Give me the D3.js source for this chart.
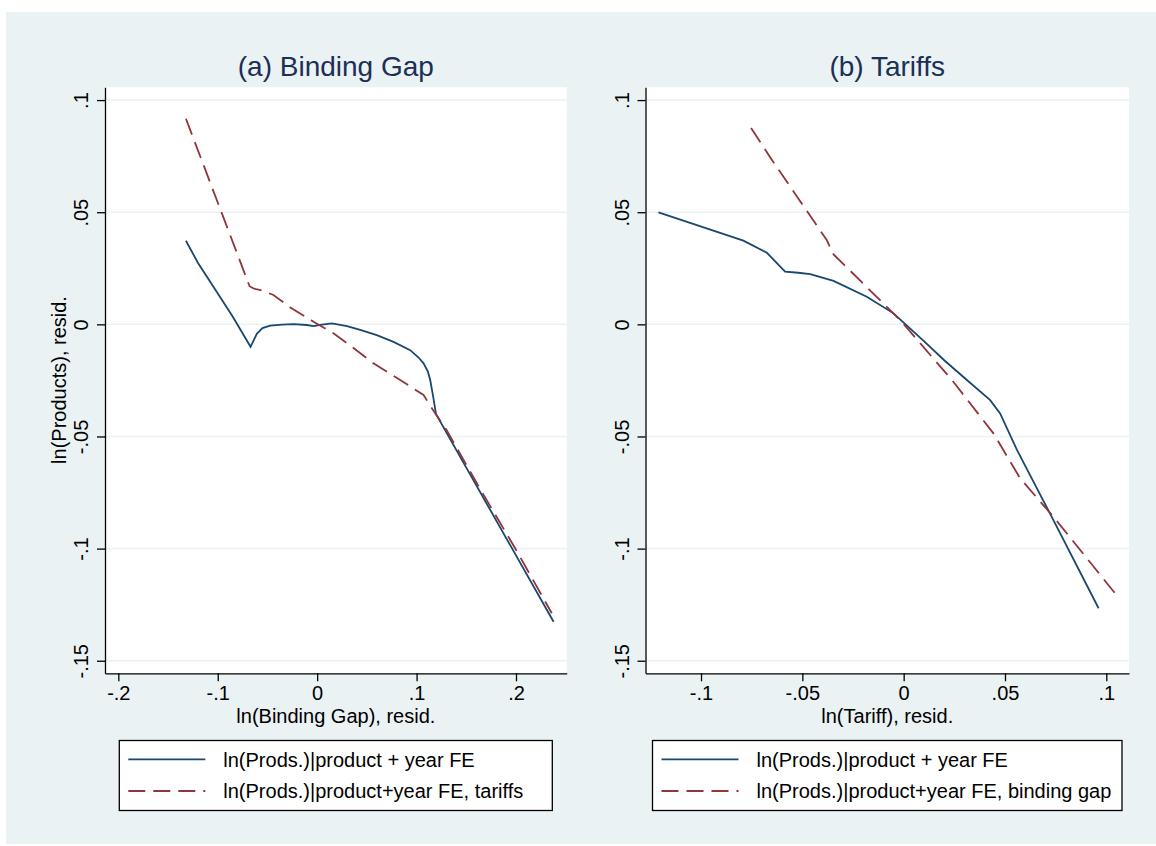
<!DOCTYPE html>
<html>
<head>
<meta charset="utf-8">
<script src="https://cdnjs.cloudflare.com/ajax/libs/d3/7.8.5/d3.min.js"></script>
<style>
  body { margin: 0; background: #fff; }
  text { font-family: "Liberation Sans", Arial, sans-serif; }
</style>
</head>
<body>
<script>
// ---- data ----
var yTicks = [-0.15, -0.1, -0.05, 0, 0.05, 0.1];
var xTicksA = [-0.2, -0.1, 0, 0.1, 0.2];
var xTicksB = [-0.1, -0.05, 0, 0.05, 0.1];

// (a) binding gap: product + year FE
var aBlueX = [-0.132, -0.12, -0.104, -0.085, -0.067, -0.0635, -0.0607, -0.055, -0.0473, -0.035, -0.0238, -0.0104, -0.0037, 0.003, 0.0148, 0.03, 0.0433, 0.06, 0.0768, 0.0936, 0.102, 0.107, 0.1113, 0.1137, 0.117, 0.1195, 0.15, 0.19, 0.2378];
var aBlueY = [0.0373, 0.0275, 0.0165, 0.0035, -0.0100, -0.0068, -0.0042, -0.0017, -0.0006, -0.0001, 0.0001, -0.0003, -0.0008, -0.0002, 0.0004, -0.0008, -0.0025, -0.0048, -0.0078, -0.0115, -0.0148, -0.0174, -0.0210, -0.0248, -0.0330, -0.0400, -0.0639, -0.0952, -0.1326];
// (a) binding gap: product + year FE, tariffs
var aRedX = [-0.132, -0.068, -0.064, -0.055, -0.044, -0.027, -0.0037, 0.0164, 0.035, 0.0566, 0.0835, 0.107, 0.1187, 0.13, 0.164, 0.2, 0.236];
var aRedY = [0.0917, 0.0170, 0.0160, 0.0150, 0.0131, 0.0075, 0.0012, -0.0040, -0.0100, -0.0174, -0.0248, -0.0315, -0.0397, -0.0470, -0.0735, -0.1005, -0.1288];

// (b) tariffs: product + year FE
var bBlueX = [-0.121, -0.0791, -0.0675, -0.0585, -0.052, -0.0461, -0.0346, -0.0182, -0.005, 0, 0.01, 0.02, 0.0312, 0.0427, 0.0476, 0.0559, 0.0739, 0.0962];
var bBlueY = [0.0499, 0.0373, 0.0319, 0.0235, 0.0230, 0.0224, 0.0194, 0.0123, 0.0049, 0.0008, -0.0075, -0.0160, -0.0248, -0.0338, -0.0397, -0.0560, -0.0873, -0.1266];
// (b) tariffs: product + year FE, binding gap
var bRedX = [-0.0753, -0.065, -0.0379, -0.0346, -0.0017, 0.0238, 0.0443, 0.0575, 0.0739, 0.0937, 0.1044];
var bRedY = [0.0875, 0.0733, 0.0375, 0.0312, 0.0019, -0.0248, -0.0486, -0.0687, -0.0858, -0.1080, -0.1200];

var blue = "#1a476f", red = "#90353b", bg = "#eaf2f3", titleColor = "#1c2f57";

var svg = d3.select("body").append("svg")
    .attr("width", 1156)
    .attr("height", 846);

// graph region background
svg.append("rect")
  .attr("x", 6).attr("y", 12)
  .attr("width", 1150).attr("height", 832)
  .attr("fill", bg);

function fmt(d) {
  if (d === 0) return "0";
  return String(d).replace("0.", ".");
}

function panel(opt) {
  var x = d3.scaleLinear().domain(opt.xDomain).range([opt.left, opt.right]);
  var y = d3.scaleLinear().domain([-0.1556, 0.1057]).range([673.3, 87.3]);
  var g = svg.append("g");

  g.append("rect")
    .attr("x", opt.left).attr("y", 87.3)
    .attr("width", opt.right - opt.left).attr("height", 673.3 - 87.3)
    .attr("fill", "#fff");

  // horizontal grid
  g.selectAll(".grid").data(yTicks).enter().append("line")
    .attr("x1", opt.left).attr("x2", opt.right)
    .attr("y1", function(d) { return y(d); })
    .attr("y2", function(d) { return y(d); })
    .attr("stroke", bg).attr("stroke-width", 1.5);

  var line = d3.line()
    .x(function(d) { return x(d[0]); })
    .y(function(d) { return y(d[1]); });

  g.append("path")
    .datum(d3.zip(opt.blueX, opt.blueY))
    .attr("d", line)
    .attr("fill", "none").attr("stroke", blue).attr("stroke-width", 1.8);

  g.append("path")
    .datum(d3.zip(opt.redX, opt.redY))
    .attr("d", line)
    .attr("fill", "none").attr("stroke", red).attr("stroke-width", 1.8)
    .attr("stroke-dasharray", "17,8");

  // axes
  var ax = g.append("g")
    .attr("transform", "translate(0,673.3)")
    .call(d3.axisBottom(x).tickValues(opt.xTicks).tickFormat(fmt).tickSize(8).tickSizeOuter(0));
  ax.selectAll("text").attr("y", 27).attr("dy", 0)
    .attr("font-size", 20).attr("fill", "#000");

  var ay = g.append("g")
    .attr("transform", "translate(" + opt.left + ",0)")
    .call(d3.axisLeft(y).tickValues(yTicks).tickFormat(fmt).tickSize(8).tickSizeOuter(0));
  ay.selectAll("text")
    .attr("transform", "rotate(-90)")
    .attr("x", 0).attr("y", -17).attr("dy", 0)
    .attr("text-anchor", "middle")
    .attr("font-size", 20).attr("fill", "#000");

  [ax, ay].forEach(function(a) {
    a.select(".domain").attr("stroke", "#000").attr("stroke-width", 1.3);
    a.selectAll(".tick line").attr("stroke", "#000").attr("stroke-width", 1.3);
  });

  var cx = (opt.left + opt.right) / 2;

  // title
  g.append("text")
    .attr("x", cx).attr("y", 76)
    .attr("text-anchor", "middle")
    .attr("font-size", 28)
    .attr("fill", titleColor)
    .text(opt.title);

  // x axis title
  g.append("text")
    .attr("x", cx).attr("y", 723)
    .attr("text-anchor", "middle")
    .attr("font-size", 20)
    .text(opt.xTitle);

  if (opt.yTitle) {
    g.append("text")
      .attr("transform", "translate(66,380) rotate(-90)")
      .attr("text-anchor", "middle")
      .attr("font-size", 20)
      .text(opt.yTitle);
  }

  // legend
  var lg = g.append("g").attr("transform", "translate(" + opt.legX + ",740.5)");
  lg.append("rect")
    .attr("width", opt.legW).attr("height", 70)
    .attr("fill", "#fff").attr("stroke", "#000").attr("stroke-width", 1.3);
  var items = [
    { label: opt.labels[0], color: blue, dash: null },
    { label: opt.labels[1], color: red, dash: "17,8" }
  ];
  items.forEach(function(it, i) {
    var yy = 18.8 + i * 31.7;
    lg.append("line")
      .attr("x1", 9).attr("x2", 86)
      .attr("y1", yy).attr("y2", yy)
      .attr("stroke", it.color).attr("stroke-width", 1.8)
      .attr("stroke-dasharray", it.dash);
    lg.append("text")
      .attr("x", 104).attr("y", yy + 7.4)
      .attr("font-size", 20)
      .text(it.label);
  });
}

panel({
  left: 105, right: 566.7,
  xDomain: [-0.2134, 0.251],
  xTicks: xTicksA,
  blueX: aBlueX, blueY: aBlueY, redX: aRedX, redY: aRedY,
  title: "(a) Binding Gap",
  xTitle: "ln(Binding Gap), resid.",
  yTitle: "ln(Products), resid.",
  legX: 119.3, legW: 433,
  labels: ["ln(Prods.)|product + year FE", "ln(Prods.)|product+year FE, tariffs"]
});

panel({
  left: 645.5, right: 1129,
  xDomain: [-0.1274, 0.1112],
  xTicks: xTicksB,
  blueX: bBlueX, blueY: bBlueY, redX: bRedX, redY: bRedY,
  title: "(b) Tariffs",
  xTitle: "ln(Tariff), resid.",
  yTitle: null,
  legX: 652.5, legW: 469.5,
  labels: ["ln(Prods.)|product + year FE", "ln(Prods.)|product+year FE, binding gap"]
});
</script>
</body>
</html>
